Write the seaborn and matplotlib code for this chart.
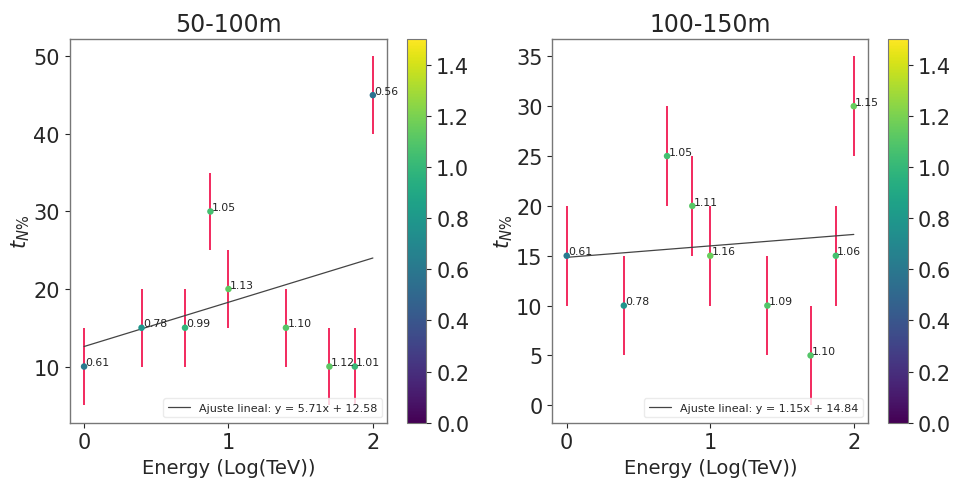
import numpy as np
import pandas as pd
import matplotlib
matplotlib.use("Agg")
import matplotlib.pyplot as plt
import seaborn as sns
from matplotlib.colors import Normalize
from matplotlib.cm import ScalarMappable

# Data
energy_log = [0.0, 0.398, 0.699, 0.875, 1.0, 1.398, 1.699, 1.875, 2.0]
t_50_100 = [10, 15, 15, 30, 20, 15, 10, 10, 45]
r_50_100 = [0.61, 0.78, 0.99, 1.05, 1.13, 1.10, 1.12, 1.01, 0.56]
t_100_150 = [15, 10, 25, 20, 15, 10, 5, 15, 30]
r_100_150 = [0.61, 0.78, 1.05, 1.11, 1.16, 1.09, 1.10, 1.06, 1.15]
err = [5, 5, 5, 5, 5, 5, 5, 5, 5]
titles = ["50-100m", "100-150m"]
cbar_ticks = [0.0, 0.2, 0.4, 0.6, 0.8, 1.0, 1.2, 1.4]

sns.set_style("white")
plt.rcParams['font.family'] = ['DejaVu Sans']

fig = plt.figure(figsize=(9.54, 4.81), dpi=100)
ax_pos = [[0.073, 0.119, 0.333, 0.798], [0.579, 0.119, 0.331, 0.798]]
cb_pos = [[0.427, 0.119, 0.020, 0.798], [0.931, 0.119, 0.021, 0.798]]
norm = Normalize(vmin=0, vmax=1.5)
cmap = plt.get_cmap("viridis")

series = [(t_50_100, r_50_100), (t_100_150, r_100_150)]
for i, (ys, rs) in enumerate(series):
    ax = fig.add_axes(ax_pos[i])
    df = pd.DataFrame({"x": energy_log, "y": ys, "r": rs, "e": err})
    ax.errorbar(df["x"], df["y"], yerr=df["e"], fmt="none", ecolor="#f2295e",
                elinewidth=1.4, zorder=1)
    sns.scatterplot(data=df, x="x", y="y", hue="r", palette="viridis",
                    hue_norm=norm, legend=False, s=22, marker="o",
                    edgecolor="none", ax=ax, zorder=3)
    m, b = np.polyfit(df["x"], df["y"], 1)
    xs = np.array([min(energy_log), max(energy_log)])
    ax.plot(xs, m * xs + b, color="#444444", lw=0.9,
            label=f"Ajuste lineal: y = {m:.2f}x + {b:.2f}", zorder=2)
    for xv, yv, rv in zip(energy_log, ys, rs):
        ax.annotate(f"{rv:.2f}", (xv, yv), fontsize=7.8, color="#222222",
                    xytext=(1, 1), textcoords="offset points")
    ax.legend(loc="lower right", fontsize=8, frameon=True, framealpha=0.8,
              edgecolor="#e6e6e6", fancybox=True)
    ax.set_title(titles[i], fontsize=17)
    ax.set_xlabel("Energy (Log(TeV))", fontsize=14)
    ax.set_ylabel(r"$t_{N\%}$", fontsize=15, labelpad=1)
    ax.set_xticks([0, 1, 2])
    ax.tick_params(axis="both", labelsize=15, length=3.5, left=True, bottom=True)
    for sp in ax.spines.values():
        sp.set_color("#777777")
        sp.set_linewidth(1.0)
    cax = fig.add_axes(cb_pos[i])
    sm = ScalarMappable(norm=norm, cmap=cmap)
    cb = fig.colorbar(sm, cax=cax, ticks=cbar_ticks)
    cb.ax.tick_params(labelsize=15, length=3.5)
    cb.outline.set_edgecolor("#777777")

fig.savefig("out.png", dpi=100)
